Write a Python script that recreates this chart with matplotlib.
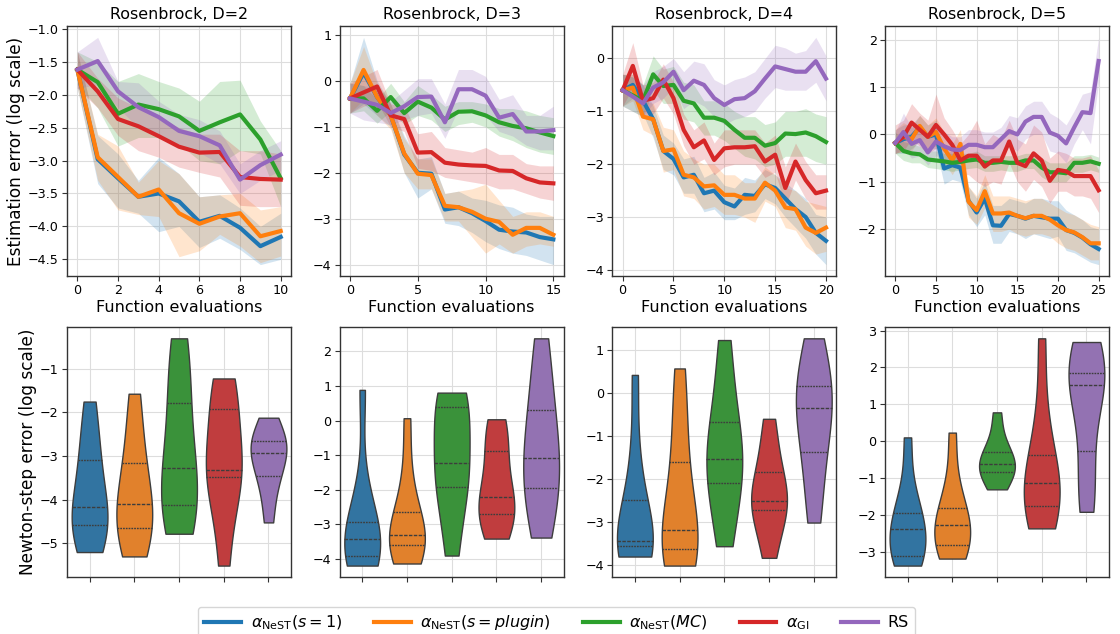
import numpy as np
import pandas as pd
import matplotlib
matplotlib.use("Agg")
import matplotlib.pyplot as plt
from matplotlib.ticker import MultipleLocator
import seaborn as sns

# ---------------- data: estimation error curves (log scale) ----------------
D2_NEST1 = [-1.62, -2.98, -3.27, -3.55, -3.50, -3.62, -3.93, -3.84, -4.02, -4.30, -4.16]
D2_NEST1_LO = [-1.90, -3.35, -3.72, -3.80, -4.08, -4.00, -4.32, -4.18, -4.35, -4.58, -4.50]
D2_NEST1_HI = [-1.35, -2.62, -2.90, -3.30, -2.95, -3.20, -3.55, -3.52, -3.72, -4.00, -3.80]
D2_NESTP = [-1.62, -2.95, -3.25, -3.55, -3.44, -3.80, -3.96, -3.85, -3.80, -4.15, -4.07]
D2_NESTP_LO = [-1.90, -3.30, -3.75, -3.82, -3.85, -4.46, -4.37, -4.12, -4.30, -4.55, -4.45]
D2_NESTP_HI = [-1.35, -2.60, -2.78, -3.33, -3.00, -3.20, -3.55, -3.52, -3.50, -3.75, -3.70]
D2_NESTMC = [-1.62, -1.81, -2.29, -2.15, -2.22, -2.33, -2.55, -2.42, -2.30, -2.68, -3.27]
D2_NESTMC_LO = [-1.85, -2.20, -2.78, -2.65, -2.65, -2.75, -3.00, -3.05, -2.85, -2.90, -3.70]
D2_NESTMC_HI = [-1.35, -1.50, -1.80, -1.68, -1.80, -1.90, -2.10, -1.80, -1.78, -2.40, -2.85]
D2_GI = [-1.62, -1.95, -2.37, -2.48, -2.63, -2.79, -2.88, -2.87, -3.25, -3.28, -3.29]
D2_GI_LO = [-1.90, -2.20, -2.62, -2.85, -2.95, -3.10, -3.18, -3.25, -3.68, -3.70, -3.70]
D2_GI_HI = [-1.35, -1.75, -2.05, -2.20, -2.35, -2.50, -2.60, -2.60, -2.85, -2.85, -2.90]
D2_RS = [-1.62, -1.49, -1.95, -2.19, -2.34, -2.55, -2.63, -2.77, -3.29, -3.07, -2.91]
D2_RS_LO = [-1.90, -1.85, -2.20, -2.50, -2.60, -2.78, -2.88, -3.05, -3.50, -3.30, -3.15]
D2_RS_HI = [-1.35, -1.13, -1.80, -1.82, -2.10, -2.30, -2.38, -2.55, -3.05, -2.85, -2.70]

D3_NEST1 = [-0.38, 0.18, -0.35, -0.75, -1.60, -2.00, -2.02, -2.80, -2.75, -2.88, -3.05, -3.24, -3.28, -3.30, -3.40, -3.45]
D3_NEST1_LO = [-0.70, -0.50, -0.75, -1.00, -2.00, -2.55, -2.35, -3.10, -3.15, -3.30, -3.50, -3.65, -3.75, -3.80, -3.90, -4.00]
D3_NEST1_HI = [-0.05, 0.95, 0.00, -0.50, -1.20, -1.70, -1.65, -2.45, -2.40, -2.55, -2.60, -2.70, -2.75, -2.90, -2.95, -2.95]
D3_NESTP = [-0.38, 0.24, -0.35, -0.75, -1.58, -2.02, -2.05, -2.72, -2.75, -2.85, -3.00, -3.07, -3.35, -3.20, -3.20, -3.35]
D3_NESTP_LO = [-0.70, -0.40, -0.75, -1.05, -2.00, -2.35, -2.35, -3.05, -3.05, -3.40, -3.75, -3.55, -3.75, -3.60, -3.55, -3.60]
D3_NESTP_HI = [-0.05, 0.75, -0.05, -0.50, -1.25, -1.70, -1.70, -2.45, -2.40, -2.35, -2.25, -2.60, -2.95, -2.85, -2.85, -2.95]
D3_NESTMC = [-0.38, -0.38, -0.65, -0.35, -0.70, -0.45, -0.58, -0.84, -0.67, -0.66, -0.75, -0.90, -0.98, -1.03, -1.12, -1.20]
D3_NESTMC_LO = [-0.70, -0.65, -0.92, -0.65, -0.95, -0.75, -0.85, -1.10, -0.95, -0.90, -1.00, -1.20, -1.30, -1.45, -1.55, -1.60]
D3_NESTMC_HI = [-0.05, -0.10, -0.40, -0.05, -0.45, -0.10, -0.30, -0.55, -0.45, -0.45, -0.50, -0.60, -0.60, -0.65, -0.75, -0.80]
D3_GI = [-0.38, -0.25, -0.12, -0.75, -0.83, -1.56, -1.55, -1.78, -1.82, -1.84, -1.85, -1.95, -1.96, -2.12, -2.21, -2.23]
D3_GI_LO = [-0.70, -0.55, -0.45, -1.00, -1.10, -1.90, -1.95, -2.10, -2.15, -2.20, -2.25, -2.35, -2.35, -2.45, -2.55, -2.60]
D3_GI_HI = [-0.05, 0.10, 0.25, -0.50, -0.55, -1.15, -1.10, -1.45, -1.50, -1.55, -1.45, -1.60, -1.60, -1.80, -1.85, -1.85]
D3_RS = [-0.38, -0.45, -0.52, -0.70, -0.55, -0.35, -0.34, -0.90, -0.18, -0.18, -0.32, -0.80, -0.72, -1.10, -1.10, -1.07]
D3_RS_LO = [-0.70, -0.85, -0.90, -0.95, -0.85, -0.75, -0.70, -1.25, -0.60, -0.60, -0.75, -1.10, -1.20, -1.40, -1.50, -1.50]
D3_RS_HI = [-0.05, -0.10, -0.15, -0.45, -0.20, 0.05, 0.05, -0.50, 0.25, 0.25, 0.10, -0.40, -0.30, -0.75, -0.75, -0.55]

D4_NEST1 = [-0.60, -0.50, -0.80, -1.15, -1.75, -1.90, -2.25, -2.20, -2.55, -2.50, -2.72, -2.80, -2.58, -2.60, -2.38, -2.45, -2.65, -2.85, -3.00, -3.30, -3.45]
D4_NEST1_LO = [-0.90, -0.75, -1.05, -1.50, -2.10, -2.20, -2.55, -2.55, -2.90, -2.85, -3.05, -3.05, -2.95, -2.90, -2.65, -2.75, -3.00, -3.20, -3.40, -3.70, -3.90]
D4_NEST1_HI = [-0.30, -0.30, -0.50, -0.90, -1.45, -1.60, -1.90, -1.85, -2.25, -2.15, -2.40, -2.45, -2.25, -2.30, -2.10, -2.20, -2.35, -2.50, -2.65, -2.95, -3.00]
D4_NESTP = [-0.60, -0.55, -1.10, -1.15, -1.75, -1.72, -2.20, -2.25, -2.42, -2.40, -2.58, -2.58, -2.65, -2.65, -2.35, -2.50, -2.82, -2.85, -3.20, -3.30, -3.20]
D4_NESTP_LO = [-0.90, -0.80, -1.35, -1.45, -2.15, -2.10, -2.60, -2.65, -2.85, -2.80, -2.95, -2.95, -3.00, -3.10, -2.70, -2.80, -3.20, -3.25, -3.55, -3.70, -3.65]
D4_NESTP_HI = [-0.30, -0.30, -0.80, -0.85, -1.30, -1.35, -1.75, -1.90, -2.00, -2.00, -2.20, -2.20, -2.35, -2.35, -2.05, -2.20, -2.45, -2.50, -2.70, -2.75, -2.80]
D4_NESTMC = [-0.60, -0.70, -0.80, -0.30, -0.52, -0.50, -0.80, -0.85, -1.12, -1.12, -1.18, -1.35, -1.50, -1.50, -1.65, -1.60, -1.42, -1.43, -1.40, -1.47, -1.58]
D4_NESTMC_LO = [-0.90, -1.00, -1.10, -0.60, -0.85, -0.85, -1.15, -1.20, -1.45, -1.45, -1.55, -1.70, -1.85, -1.90, -2.05, -2.00, -1.85, -1.85, -1.85, -1.95, -2.00]
D4_NESTMC_HI = [-0.30, -0.35, -0.50, 0.05, -0.20, -0.15, -0.45, -0.50, -0.80, -0.80, -0.85, -1.00, -1.10, -1.10, -1.25, -1.20, -1.00, -1.00, -0.95, -1.05, -1.10]
D4_GI = [-0.60, -0.14, -0.80, -0.75, -0.40, -0.75, -1.35, -1.68, -1.55, -1.92, -1.70, -1.68, -1.68, -1.66, -1.95, -1.82, -2.45, -1.95, -2.30, -2.55, -2.50]
D4_GI_LO = [-0.90, -0.55, -1.10, -1.05, -0.75, -1.05, -1.65, -2.00, -1.90, -2.20, -2.05, -2.00, -2.00, -2.00, -2.25, -2.15, -2.80, -2.30, -2.65, -2.85, -2.85]
D4_GI_HI = [-0.30, 0.30, -0.50, -0.45, -0.10, -0.45, -1.05, -1.35, -1.20, -1.60, -1.35, -1.35, -1.35, -1.35, -1.60, -1.45, -2.05, -1.60, -1.95, -2.20, -2.20]
D4_RS = [-0.60, -0.72, -0.85, -0.55, -0.45, -0.25, -0.60, -0.42, -0.50, -0.75, -0.88, -0.77, -0.75, -0.62, -0.38, -0.15, -0.20, -0.25, -0.25, -0.05, -0.38]
D4_RS_LO = [-0.90, -1.00, -1.10, -0.85, -0.75, -0.55, -0.95, -0.80, -0.90, -1.10, -1.25, -1.15, -1.10, -1.00, -0.75, -0.55, -0.60, -0.60, -0.60, -0.45, -0.80]
D4_RS_HI = [-0.30, -0.35, -0.50, -0.25, -0.15, 0.00, -0.25, -0.05, -0.10, -0.40, -0.50, -0.40, -0.35, -0.25, 0.00, 0.25, 0.20, 0.10, 0.15, 0.40, 0.05]

D5_NEST1 = [-0.18, -0.10, -0.05, 0.15, -0.05, 0.00, -0.72, -0.65, -0.70, -1.40, -1.65, -1.35, -1.92, -1.93, -1.68, -1.72, -1.78, -1.72, -1.75, -1.78, -1.78, -2.02, -2.08, -2.18, -2.32, -2.42]
D5_NEST1_LO = [-0.40, -0.40, -0.30, -0.15, -0.30, -0.30, -1.05, -0.95, -1.00, -1.70, -1.95, -1.70, -2.30, -2.30, -2.05, -2.10, -2.20, -2.10, -2.15, -2.20, -2.15, -2.45, -2.50, -2.60, -2.70, -2.75]
D5_NEST1_HI = [0.10, 0.20, 0.20, 0.40, 0.20, 0.30, -0.40, -0.35, -0.40, -1.10, -1.35, -1.00, -1.50, -1.50, -1.35, -1.40, -1.45, -1.35, -1.35, -1.40, -1.40, -1.60, -1.70, -1.80, -1.95, -2.00]
D5_NESTP = [-0.18, -0.05, -0.10, 0.18, -0.05, 0.05, -0.30, -0.55, -0.20, -1.42, -1.60, -1.20, -1.67, -1.67, -1.65, -1.72, -1.77, -1.72, -1.72, -1.80, -1.92, -2.02, -2.07, -2.17, -2.30, -2.30]
D5_NESTP_LO = [-0.40, -0.35, -0.35, -0.10, -0.30, -0.25, -0.60, -0.85, -0.55, -1.75, -1.90, -1.55, -2.05, -2.05, -2.00, -2.10, -2.15, -2.10, -2.10, -2.15, -2.30, -2.40, -2.45, -2.55, -2.65, -2.65]
D5_NESTP_HI = [0.10, 0.25, 0.15, 0.40, 0.20, 0.35, 0.05, -0.20, 0.10, -1.10, -1.30, -0.85, -1.30, -1.30, -1.30, -1.35, -1.40, -1.35, -1.35, -1.45, -1.55, -1.65, -1.70, -1.80, -1.90, -1.95]
D5_NESTMC = [-0.18, -0.35, -0.40, -0.42, -0.53, -0.55, -0.57, -0.60, -0.58, -0.55, -0.53, -0.60, -0.60, -0.58, -0.60, -0.60, -0.55, -0.55, -0.70, -0.80, -0.80, -0.82, -0.60, -0.60, -0.57, -0.62]
D5_NESTMC_LO = [-0.40, -0.55, -0.60, -0.60, -0.70, -0.72, -0.75, -0.78, -0.75, -0.72, -0.70, -0.78, -0.78, -0.75, -0.78, -0.78, -0.72, -0.72, -0.90, -1.00, -1.00, -1.00, -0.80, -0.80, -0.75, -0.80]
D5_NESTMC_HI = [0.05, -0.15, -0.20, -0.25, -0.35, -0.35, -0.40, -0.40, -0.40, -0.40, -0.35, -0.45, -0.45, -0.45, -0.45, -0.45, -0.40, -0.40, -0.50, -0.60, -0.60, -0.60, -0.45, -0.45, -0.42, -0.48]
D5_GI = [-0.18, -0.05, 0.25, 0.10, -0.05, 0.20, 0.00, -0.22, -0.55, -0.45, -0.45, -0.68, -0.55, -0.55, -0.15, -0.60, -0.67, -0.40, -0.55, -0.98, -0.75, -0.78, -0.88, -0.88, -0.88, -1.18]
D5_GI_LO = [-0.40, -0.35, -0.10, -0.25, -0.40, -0.30, -0.35, -0.55, -0.85, -0.85, -1.00, -1.10, -1.00, -1.05, -0.60, -1.00, -1.20, -0.95, -1.10, -1.45, -1.20, -1.20, -1.30, -1.30, -1.35, -1.65]
D5_GI_HI = [0.20, 0.30, 0.65, 0.45, 0.30, 0.85, 0.35, 0.10, -0.20, 0.00, 0.30, -0.20, 0.00, -0.10, 0.30, -0.10, -0.20, 0.20, 0.05, -0.50, -0.35, -0.40, -0.50, -0.50, -0.45, -0.75]
D5_RS = [-0.18, 0.05, -0.20, -0.12, -0.38, -0.15, -0.25, -0.32, -0.33, -0.22, -0.22, -0.27, -0.27, -0.10, 0.07, 0.00, 0.27, 0.37, 0.37, 0.04, -0.03, -0.19, 0.15, 0.47, 0.45, 1.55]
D5_RS_LO = [-0.40, -0.30, -0.50, -0.45, -0.65, -0.45, -0.55, -0.60, -0.60, -0.55, -0.55, -0.60, -0.60, -0.45, -0.25, -0.35, -0.10, 0.00, 0.00, -0.35, -0.40, -0.60, -0.20, 0.10, -0.20, 1.10]
D5_RS_HI = [0.05, 0.45, 0.15, 0.20, -0.10, 0.15, 0.05, -0.05, -0.05, 0.10, 0.10, 0.05, 0.05, 0.15, 0.40, 0.35, 0.60, 0.70, 0.70, 0.45, 0.35, 0.20, 0.50, 0.85, 0.90, 2.05]

# ---------------- data: Newton-step error samples (log scale) ----------------
V_D2_NEST1 = [-5.20, -4.90, -4.59, -4.40, -4.16, -3.70, -3.10, -2.60, -1.75]
V_D2_NESTP = [-5.30, -4.95, -4.64, -4.35, -4.09, -3.70, -3.16, -2.50, -1.57]
V_D2_NESTMC = [-4.78, -4.40, -4.11, -3.70, -3.28, -2.60, -1.78, -1.00, -0.30]
V_D2_GI = [-5.51, -4.30, -3.48, -3.40, -3.31, -2.80, -1.91, -1.60, -1.22]
V_D2_RS = [-4.52, -3.80, -3.46, -3.10, -2.92, -2.80, -2.65, -2.50, -2.12]

V_D3_NEST1 = [-4.19, -4.05, -3.91, -3.65, -3.43, -3.20, -2.94, -2.00, 0.89]
V_D3_NESTP = [-4.13, -3.85, -3.60, -3.45, -3.31, -3.00, -2.64, -1.60, 0.07]
V_D3_NESTMC = [-3.90, -2.70, -1.91, -1.50, -1.21, -0.40, 0.39, 0.60, 0.81]
V_D3_GI = [-3.41, -3.00, -2.69, -2.45, -2.22, -1.70, -0.87, -0.40, 0.04]
V_D3_RS = [-3.38, -2.60, -1.94, -1.50, -1.07, -0.40, 0.30, 1.20, 2.38]

V_D4_NEST1 = [-3.81, -3.70, -3.57, -3.50, -3.44, -3.10, -2.49, -1.50, 0.41]
V_D4_NESTP = [-4.02, -3.85, -3.63, -3.40, -3.20, -2.50, -1.61, -0.60, 0.56]
V_D4_NESTMC = [-3.57, -2.80, -2.10, -1.80, -1.55, -1.10, -0.68, 0.20, 1.22]
V_D4_GI = [-3.84, -3.20, -2.74, -2.60, -2.51, -2.20, -1.84, -1.30, -0.61]
V_D4_RS = [-3.02, -2.10, -1.39, -0.80, -0.37, -0.10, 0.15, 0.70, 1.26]

V_D5_NEST1 = [-3.38, -3.20, -3.11, -2.70, -2.40, -2.20, -1.95, -1.30, 0.10]
V_D5_NESTP = [-3.19, -3.00, -2.82, -2.50, -2.28, -2.05, -1.83, -1.10, 0.23]
V_D5_NESTMC = [-1.31, -1.05, -0.85, -0.72, -0.61, -0.45, -0.30, 0.10, 0.78]
V_D5_GI = [-2.37, -2.00, -1.77, -1.45, -1.15, -0.80, -0.39, 0.80, 2.79]
V_D5_RS = [-1.92, -1.30, -0.27, 1.30, 1.53, 1.75, 1.85, 2.35, 2.69]

TITLES = ["Rosenbrock, D=2", "Rosenbrock, D=3", "Rosenbrock, D=4", "Rosenbrock, D=5"]
X_TICK_STEP = [2, 5, 5, 5]
METHODS = ["nest1", "nestp", "nestmc", "gi", "rs"]
LABELS = [r"$\alpha_{\mathrm{NeST}}(s=1)$", r"$\alpha_{\mathrm{NeST}}(s=plugin)$",
          r"$\alpha_{\mathrm{NeST}}(MC)$", r"$\alpha_{\mathrm{GI}}$", "RS"]
COLORS = ["#1f77b4", "#ff7f0e", "#2ca02c", "#d62728", "#9467bd"]

CURVES = [
    [(D2_NEST1, D2_NEST1_LO, D2_NEST1_HI), (D2_NESTP, D2_NESTP_LO, D2_NESTP_HI),
     (D2_NESTMC, D2_NESTMC_LO, D2_NESTMC_HI), (D2_GI, D2_GI_LO, D2_GI_HI), (D2_RS, D2_RS_LO, D2_RS_HI)],
    [(D3_NEST1, D3_NEST1_LO, D3_NEST1_HI), (D3_NESTP, D3_NESTP_LO, D3_NESTP_HI),
     (D3_NESTMC, D3_NESTMC_LO, D3_NESTMC_HI), (D3_GI, D3_GI_LO, D3_GI_HI), (D3_RS, D3_RS_LO, D3_RS_HI)],
    [(D4_NEST1, D4_NEST1_LO, D4_NEST1_HI), (D4_NESTP, D4_NESTP_LO, D4_NESTP_HI),
     (D4_NESTMC, D4_NESTMC_LO, D4_NESTMC_HI), (D4_GI, D4_GI_LO, D4_GI_HI), (D4_RS, D4_RS_LO, D4_RS_HI)],
    [(D5_NEST1, D5_NEST1_LO, D5_NEST1_HI), (D5_NESTP, D5_NESTP_LO, D5_NESTP_HI),
     (D5_NESTMC, D5_NESTMC_LO, D5_NESTMC_HI), (D5_GI, D5_GI_LO, D5_GI_HI), (D5_RS, D5_RS_LO, D5_RS_HI)],
]
VIOLINS = [
    [V_D2_NEST1, V_D2_NESTP, V_D2_NESTMC, V_D2_GI, V_D2_RS],
    [V_D3_NEST1, V_D3_NESTP, V_D3_NESTMC, V_D3_GI, V_D3_RS],
    [V_D4_NEST1, V_D4_NESTP, V_D4_NESTMC, V_D4_GI, V_D4_RS],
    [V_D5_NEST1, V_D5_NESTP, V_D5_NESTMC, V_D5_GI, V_D5_RS],
]

plt.rcParams["font.family"] = ["DejaVu Sans"]
plt.rcParams["mathtext.fontset"] = "dejavusans"

fig, axes = plt.subplots(2, 4, figsize=(11.2, 6.34), dpi=100)
fig.subplots_adjust(left=0.06, right=0.99, top=0.959, bottom=0.09,
                    wspace=0.219, hspace=0.204)

def style(ax):
    ax.grid(True, color="#dddddd", linewidth=0.8)
    ax.set_axisbelow(True)
    for s in ax.spines.values():
        s.set_color("#333333")
        s.set_linewidth(1.0)
    ax.tick_params(labelsize=9.2, color="#333333", length=3.5, pad=2.6)

handles = []
for j in range(4):
    ax = axes[0, j]
    for k, (mean, lo, hi) in enumerate(CURVES[j]):
        x = np.arange(len(mean))
        ax.fill_between(x, lo, hi, color=COLORS[k], alpha=0.2, linewidth=0)
        ln, = ax.plot(x, mean, color=COLORS[k], lw=3, label=LABELS[k])
        if j == 0:
            handles.append(ln)
    ax.xaxis.set_major_locator(MultipleLocator(X_TICK_STEP[j]))
    ax.set_title(TITLES[j], fontsize=11.4, pad=5)
    ax.set_xlabel("Function evaluations", fontsize=11.5, labelpad=2)
    style(ax)
axes[0, 0].set_ylabel("Estimation error (log scale)", fontsize=12.2, labelpad=2)

for j in range(4):
    ax = axes[1, j]
    vals, cats = [], []
    for k, v in enumerate(VIOLINS[j]):
        vals += list(v)
        cats += [METHODS[k]] * len(v)
    df = pd.DataFrame({"method": cats, "err": vals})
    sns.violinplot(data=df, x="method", y="err", hue="method", palette=COLORS,
                   order=METHODS, hue_order=METHODS, cut=0, inner="quart",
                   density_norm="width", linewidth=1, legend=False, ax=ax)
    ax.set_xlabel("")
    ax.set_ylabel("")
    ax.set_xticks(range(5))
    ax.set_xticklabels([""] * 5)
    style(ax)
axes[1, 0].set_ylabel("Newton-step error (log scale)", fontsize=12.2, labelpad=2)

fig.legend(handles=handles, labels=LABELS, loc="lower center", ncol=5,
           bbox_to_anchor=(0.497, -0.02), fontsize=11.5, frameon=True,
           handlelength=2.3, handletextpad=0.6, columnspacing=2.0)

fig.savefig("out.png", dpi=100)
